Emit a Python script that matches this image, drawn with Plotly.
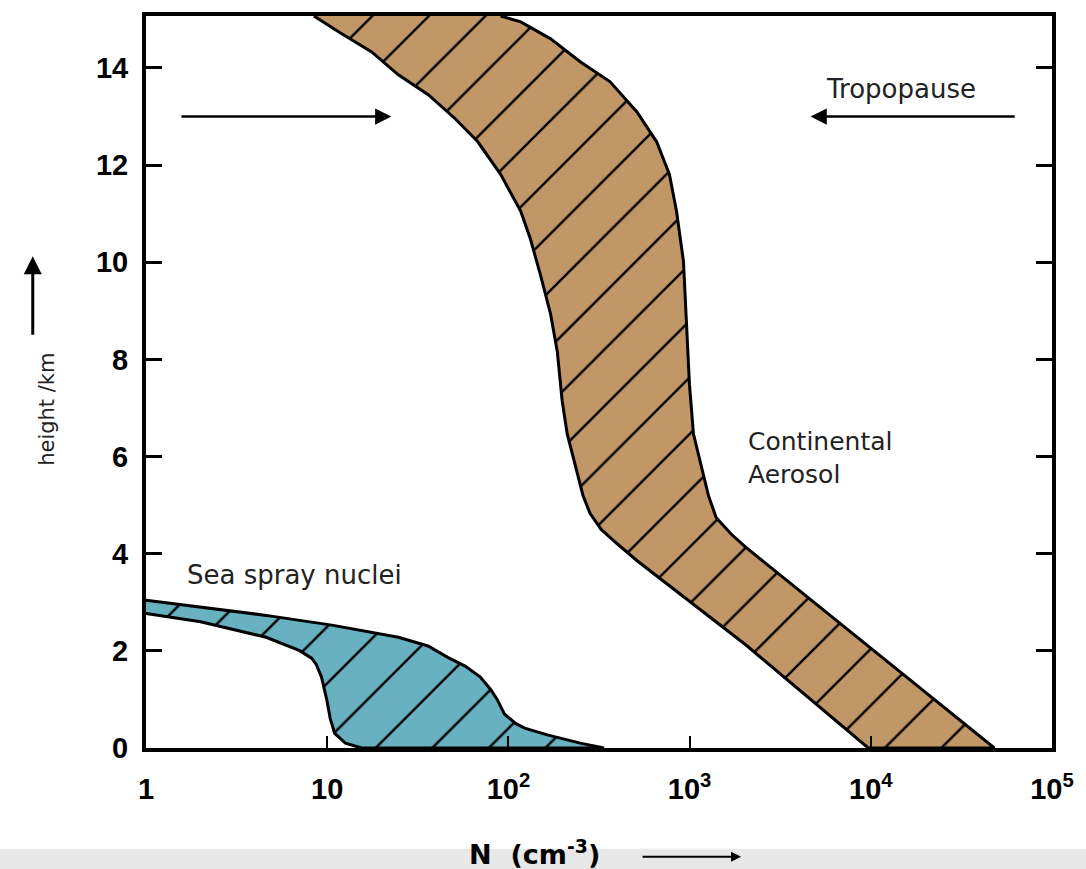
import math
import plotly.graph_objects as go

# ---------------- data ----------------
# Continental aerosol band: left (low-N) boundary, top -> bottom
cont_left_y = [15.07, 14.74, 14.33, 13.86, 13.45, 12.96, 12.48, 11.81, 11.05, 10.49,
               9.75, 8.93, 8.17, 7.15, 6.47, 5.65, 5.20, 4.83, 4.50, 4.21, 3.86,
               2.12, 0.0]
cont_left_N = [8.45, 11.6, 17.6, 24.7, 36.1, 50.7, 67.8, 90.6, 117, 132,
               150, 171, 186, 198, 211, 239, 258, 282, 325, 397, 511,
               2047, 9683]
# right (high-N) boundary, bottom -> top
cont_right_y = [0.0, 4.13, 4.40, 4.74, 5.20, 5.65, 6.47, 7.49, 8.93, 10.02,
                11.05, 11.81, 12.48, 13.10, 13.72, 14.13, 14.60, 14.95, 15.07]
cont_right_N = [48080, 2046, 1700, 1403, 1270, 1191, 1050, 998, 959, 925,
                847, 774, 658, 511, 363, 249, 171, 117, 90.6]

# Sea spray nuclei band: upper boundary (left->right) and lower boundary (right->left)
sea_upper_N = [1.0, 1.98, 4.6, 10.6, 24.7, 36, 46, 58, 70, 80, 87, 95, 110, 123, 164, 249, 337]
sea_upper_y = [3.04, 2.90, 2.73, 2.53, 2.28, 2.10, 1.87, 1.68, 1.46, 1.20, 0.99, 0.70, 0.50, 0.41, 0.27, 0.10, 0.0]
sea_lower_N = [15.5, 12.6, 11.0, 10.4, 9.95, 9.6, 9.3, 8.7, 8.2, 7.0, 4.6, 2.0, 1.0]
sea_lower_y = [0.0, 0.10, 0.30, 0.60, 0.99, 1.25, 1.46, 1.72, 1.85, 2.01, 2.28, 2.60, 2.77]

x_tickvals = [1, 10, 100, 1000, 10000, 100000]
x_ticktext = ["1", "10", "10<sup>2</sup>", "10<sup>3</sup>", "10<sup>4</sup>", "10<sup>5</sup>"]
y_tickvals = [0, 2, 4, 6, 8, 10, 12, 14]

tropopause_height = 13.0
tropo_left_tail, tropo_left_head = 1.54, 22.6
tropo_right_tail, tropo_right_head = 63500, 4650

CONT_COLOR = "#C19768"
SEA_COLOR = "#67B1C1"

# ---------------- figure ----------------
fig = go.Figure()

fig.add_trace(go.Scatter(
    x=cont_left_N + cont_right_N,
    y=cont_left_y + cont_right_y,
    mode="lines", fill="toself",
    fillcolor=CONT_COLOR,
    fillpattern=dict(shape="/", size=40, solidity=0.06,
                     fgcolor="black", bgcolor=CONT_COLOR, fillmode="replace"),
    line=dict(color="black", width=3),
    hoverinfo="skip", showlegend=False,
))

fig.add_trace(go.Scatter(
    x=sea_upper_N + sea_lower_N,
    y=sea_upper_y + sea_lower_y,
    mode="lines", fill="toself",
    fillcolor=SEA_COLOR,
    fillpattern=dict(shape="/", size=40, solidity=0.06,
                     fgcolor="black", bgcolor=SEA_COLOR, fillmode="replace"),
    line=dict(color="black", width=3),
    hoverinfo="skip", showlegend=False,
))

arrow_kw = dict(showarrow=True, arrowhead=2, arrowsize=1.3, arrowwidth=2.5,
                arrowcolor="black", text="")
fig.add_annotation(x=math.log10(tropo_left_head), y=tropopause_height,
                   ax=math.log10(tropo_left_tail), ay=tropopause_height,
                   xref="x", yref="y", axref="x", ayref="y", **arrow_kw)
fig.add_annotation(x=math.log10(tropo_right_head), y=tropopause_height,
                   ax=math.log10(tropo_right_tail), ay=tropopause_height,
                   xref="x", yref="y", axref="x", ayref="y", **arrow_kw)

label_font = dict(family="DejaVu Sans", size=25, color="#222222")
fig.add_annotation(text="Tropopause", x=0.8333, y=0.9005, xref="paper", yref="paper",
                   showarrow=False, font=dict(family="DejaVu Sans", size=26, color="#222222"),
                   xanchor="center", yanchor="middle")
fig.add_annotation(text="Continental<br>Aerosol", x=0.6623, y=0.3965, xref="paper", yref="paper",
                   showarrow=False, font=label_font, xanchor="left", yanchor="middle", align="left")
fig.add_annotation(text="Sea spray nuclei", x=0.0428, y=0.2357, xref="paper", yref="paper",
                   showarrow=False, font=dict(family="DejaVu Sans", size=26, color="#222222"),
                   xanchor="left", yanchor="middle")

# axis titles (as annotations, with arrows)
fig.add_annotation(text="height /km", x=-0.125, y=0.463, xref="paper", yref="paper",
                   textangle=-90, showarrow=False,
                   font=dict(family="DejaVu Sans", size=21, color="#222222"))
fig.add_annotation(x=-0.125, y=0.6717, xref="paper", yref="paper", ax=0, ay=80,
                   showarrow=True, arrowhead=2, arrowsize=1.2, arrowwidth=3,
                   arrowcolor="black", text="")
fig.add_annotation(text="N  (cm<sup>-3</sup>)", x=0.4287, y=-0.169, xref="paper", yref="paper",
                   showarrow=False, font=dict(family="DejaVu Sans", size=27, color="black", weight="bold"))
fig.add_annotation(x=0.6568, y=-0.1485, xref="paper", yref="paper", ax=-100, ay=0,
                   showarrow=True, arrowhead=2, arrowsize=1.0, arrowwidth=2,
                   arrowcolor="black", text="")

# light gray band at the bottom
fig.add_shape(type="rect", xref="paper", yref="paper", x0=-0.2, x1=1.2, y0=-0.2, y1=-0.1376,
              fillcolor="#e8e8e8", line=dict(width=0), layer="below")

tick_font = dict(family="Liberation Sans", size=29, color="black", weight="bold")
fig.update_xaxes(type="log", range=[0, 5], tickvals=x_tickvals, ticktext=x_ticktext,
                 ticks="inside", ticklen=12, tickwidth=2, tickcolor="black",
                 showline=True, linewidth=4, linecolor="black", mirror=True,
                 showgrid=False, zeroline=False, tickfont=tick_font, ticklabelstandoff=12)
fig.update_yaxes(range=[0, 15.07], tickvals=y_tickvals,
                 ticks="inside", ticklen=16, tickwidth=3, tickcolor="black",
                 showline=True, linewidth=4, linecolor="black", mirror="allticks",
                 showgrid=False, zeroline=False, tickfont=tick_font, ticklabelstandoff=8)

fig.update_layout(width=1086, height=869, margin=dict(l=146, r=28, t=14, b=121),
                  paper_bgcolor="white", plot_bgcolor="white", showlegend=False)

fig.write_html("out.html")
